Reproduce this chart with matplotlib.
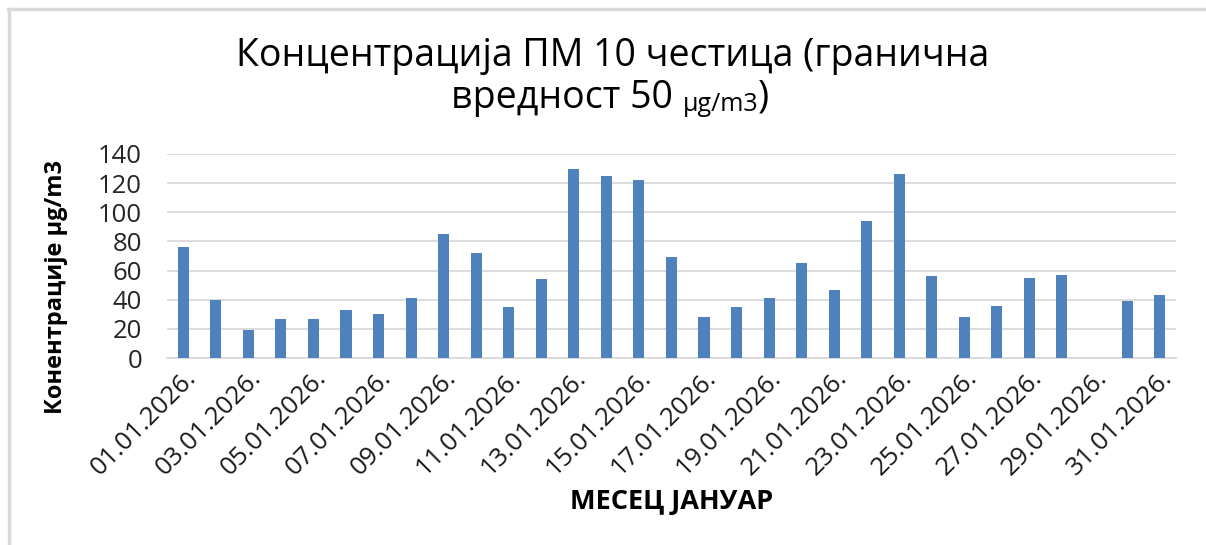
import numpy as np
import matplotlib.pyplot as plt
from matplotlib.lines import Line2D

plt.rcParams['font.family'] = ['Open Sans', 'DejaVu Sans']

# Daily PM10 values for January 2026 (29th has no measurement)
days = [f"{d:02d}.01.2026." for d in range(1, 32)]
pm10 = [76, 40, 19, 27, 27, 33, 30, 41, 85, 72, 35, 54, 130, 125, 122, 69,
        28, 35, 41, 65, 47, 94, 126, 56, 28, 36, 55, 57, np.nan, 39, 43]

bar_color = '#4f81bd'
grid_color = '#d9d9d9'

fig = plt.figure(figsize=(12.06, 5.45), dpi=100)
ax = fig.add_axes([0.1385, 0.343, 0.8365, 0.3745])

x = np.arange(len(days))
ax.bar(x, pm10, width=0.34, color=bar_color, zorder=3)

ax.set_xlim(-0.5, len(days) - 0.5)
ax.set_ylim(0, 140)
ax.set_yticks(np.arange(0, 141, 20))
ax.yaxis.grid(True, color=grid_color, linewidth=1.3, zorder=0)
ax.tick_params(axis='y', length=0, pad=18, labelsize=18.5, colors='#262626')
ax.tick_params(axis='x', length=0, pad=5, labelsize=18.5, colors='#1a1a1a')

ax.set_xticks(x[::2])
ax.set_xticklabels(days[::2], rotation=45, ha='right', rotation_mode='anchor')

for side in ['top', 'right', 'left']:
    ax.spines[side].set_visible(False)
ax.spines['bottom'].set_color(grid_color)
ax.spines['bottom'].set_linewidth(1.3)

ax.set_xlabel('МЕСЕЦ ЈАНУАР', fontsize=19.5, fontweight='bold')
ax.xaxis.set_label_coords(0.5, -0.64)
ax.set_ylabel('Конентрације µg/m3', fontsize=17, fontweight='bold')
ax.yaxis.set_label_coords(-0.098, 0.35)

# two-line title; the unit on line two is smaller
fig.text(0.508, 0.878, 'Концентрација ПМ 10 честица (гранична',
         ha='center', va='baseline', fontsize=27)
t1 = fig.text(0.0, 0.802, 'вредност 50 ', ha='left', va='baseline', fontsize=27)
t2 = ax.annotate('µg/m3', xy=(1, 0), xycoords=t1, va='bottom', ha='left',
                 fontsize=18, annotation_clip=False)
t3 = ax.annotate(')', xy=(1, 0), xycoords=t2, va='bottom', ha='left',
                 fontsize=27, annotation_clip=False)

# center the second title line on the figure
fig.canvas.draw()
r = fig.canvas.get_renderer()
w = (t3.get_window_extent(r).x1 - t1.get_window_extent(r).x0) / fig.bbox.width
t1.set_x(0.506 - w / 2)

# frame lines at top and left
fig.add_artist(Line2D([0.007, 1.0], [0.984, 0.984], color=grid_color,
                      linewidth=2.5, transform=fig.transFigure))
fig.add_artist(Line2D([0.0072, 0.0072], [0.0, 0.984], color=grid_color,
                      linewidth=2.5, transform=fig.transFigure))

fig.savefig('out.png', dpi=100)
